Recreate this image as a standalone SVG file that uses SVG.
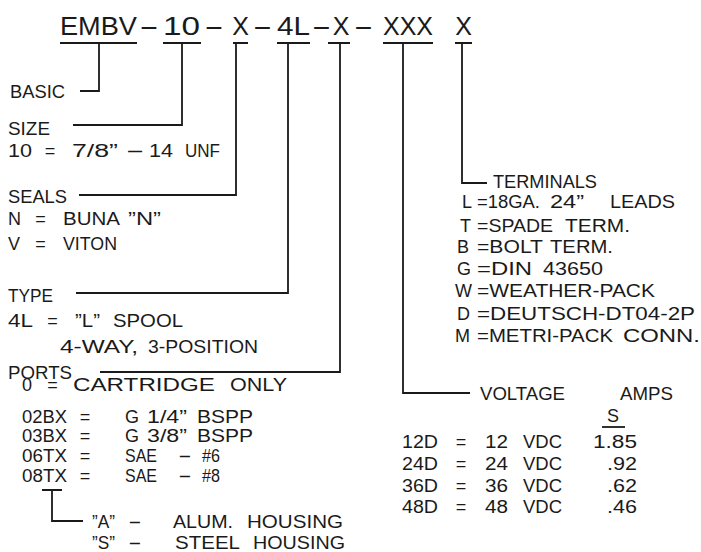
<svg xmlns="http://www.w3.org/2000/svg" width="701" height="552" viewBox="0 0 701 552">
<style>
text{font-family:"Liberation Sans",Arial,sans-serif;fill:#1a1a1a;font-size:18px}
.ttl{font-size:25px}
.m{text-anchor:middle}
.ln{stroke:#1a1a1a;stroke-width:1.8;fill:none}
</style>
<rect width="701" height="552" fill="#fff"/>
<g id="title">
<text class="ttl" x="60" y="35" textLength="77" lengthAdjust="spacingAndGlyphs">EMBV</text>
<text class="ttl m" transform="translate(149 35) scale(2.4 1)" x="0" y="0">-</text>
<text class="ttl" x="163" y="35" textLength="37" lengthAdjust="spacingAndGlyphs">10</text>
<text class="ttl m" transform="translate(214 35) scale(2.4 1)" x="0" y="0">-</text>
<text class="ttl m" x="240.5" y="35">X</text>
<text class="ttl m" transform="translate(262.5 35) scale(2.4 1)" x="0" y="0">-</text>
<text class="ttl" x="277" y="35" textLength="33" lengthAdjust="spacingAndGlyphs">4L</text>
<text class="ttl m" transform="translate(321.5 35) scale(2.4 1)" x="0" y="0">-</text>
<text class="ttl m" x="341" y="35">X</text>
<text class="ttl m" transform="translate(363.5 35) scale(2.4 1)" x="0" y="0">-</text>
<text class="ttl" x="383" y="35" textLength="50" lengthAdjust="spacingAndGlyphs">XXX</text>
<text class="ttl m" x="463.5" y="35">X</text>
</g>
<g id="connectors" class="ln">
<path d="M60 43H137M163 43H201M233 43H248M277 43H310M328 43H350M383 43H433M455 43H472"/>
<path d="M99 43V91H80"/>
<path d="M182 43V125H73"/>
<path d="M236 43V195H79"/>
<path d="M288 43V293H76"/>
<path d="M340 43V372H100"/>
<path d="M403 43V393H470"/>
<path d="M462 43V183H487"/>
<path d="M42 490H62M52 490V521H83"/>
<path d="M602 427H625"/>
</g>
<g id="basic">
<text x="10" y="98" textLength="55" lengthAdjust="spacingAndGlyphs">BASIC</text>
</g>
<g id="size">
<text x="8" y="135" textLength="42" lengthAdjust="spacingAndGlyphs">SIZE</text>
<text x="8" y="157" textLength="24" lengthAdjust="spacingAndGlyphs">10</text>
<text class="m" x="50" y="157">=</text>
<text x="72" y="157" textLength="46" lengthAdjust="spacingAndGlyphs">7/8”</text>
<text class="m" transform="translate(135 157) scale(3.2 1)" x="0" y="0">-</text>
<text x="149" y="157" textLength="24" lengthAdjust="spacingAndGlyphs">14</text>
<text x="185" y="157" textLength="35" lengthAdjust="spacingAndGlyphs">UNF</text>
</g>
<g id="seals">
<text x="8" y="203" textLength="59" lengthAdjust="spacingAndGlyphs">SEALS</text>
<text x="8" y="225">N</text>
<text class="m" x="40.5" y="225">=</text>
<text x="63" y="225" textLength="57" lengthAdjust="spacingAndGlyphs">BUNA</text>
<text x="128" y="225" textLength="33" lengthAdjust="spacingAndGlyphs">”N”</text>
<text x="8" y="250">V</text>
<text class="m" x="40.5" y="250">=</text>
<text x="63" y="250" textLength="54" lengthAdjust="spacingAndGlyphs">VITON</text>
</g>
<g id="type">
<text x="8" y="302" textLength="45" lengthAdjust="spacingAndGlyphs">TYPE</text>
<text x="8" y="327" textLength="25" lengthAdjust="spacingAndGlyphs">4L</text>
<text class="m" x="52.5" y="327">=</text>
<text x="75" y="327" textLength="25" lengthAdjust="spacingAndGlyphs">”L”</text>
<text x="113" y="327" textLength="70" lengthAdjust="spacingAndGlyphs">SPOOL</text>
<text x="60" y="353" textLength="78" lengthAdjust="spacingAndGlyphs">4-WAY,</text>
<text x="148" y="353" textLength="110" lengthAdjust="spacingAndGlyphs">3-POSITION</text>
</g>
<g id="ports">
<text x="8" y="379" textLength="64" lengthAdjust="spacingAndGlyphs">PORTS</text>
<text x="22" y="391">0</text>
<text class="m" x="52.5" y="391">=</text>
<text x="73" y="391" textLength="142" lengthAdjust="spacingAndGlyphs">CARTRIDGE</text>
<text x="230" y="391" textLength="57" lengthAdjust="spacingAndGlyphs">ONLY</text>
<text x="22" y="423" textLength="45" lengthAdjust="spacingAndGlyphs">02BX</text>
<text class="m" x="85" y="423">=</text>
<text x="125" y="423">G</text>
<text x="147" y="423" textLength="40" lengthAdjust="spacingAndGlyphs">1/4”</text>
<text x="197" y="423" textLength="56" lengthAdjust="spacingAndGlyphs">BSPP</text>
<text x="22" y="442" textLength="45" lengthAdjust="spacingAndGlyphs">03BX</text>
<text class="m" x="85" y="442">=</text>
<text x="125" y="442">G</text>
<text x="147" y="442" textLength="40" lengthAdjust="spacingAndGlyphs">3/8”</text>
<text x="197" y="442" textLength="56" lengthAdjust="spacingAndGlyphs">BSPP</text>
<text x="22" y="462" textLength="45" lengthAdjust="spacingAndGlyphs">06TX</text>
<text class="m" x="85" y="462">=</text>
<text x="125" y="462" textLength="32" lengthAdjust="spacingAndGlyphs">SAE</text>
<text class="m" transform="translate(185 462) scale(2.3 1)" x="0" y="0">-</text>
<text x="202" y="462" textLength="18" lengthAdjust="spacingAndGlyphs">#6</text>
<text x="22" y="482" textLength="45" lengthAdjust="spacingAndGlyphs">08TX</text>
<text class="m" x="85" y="482">=</text>
<text x="125" y="482" textLength="32" lengthAdjust="spacingAndGlyphs">SAE</text>
<text class="m" transform="translate(185 482) scale(2.3 1)" x="0" y="0">-</text>
<text x="202" y="482" textLength="18" lengthAdjust="spacingAndGlyphs">#8</text>
</g>
<g id="housing">
<text x="92" y="528" textLength="23" lengthAdjust="spacingAndGlyphs">”A”</text>
<text class="m" transform="translate(135 528) scale(2.3 1)" x="0" y="0">-</text>
<text x="173" y="528" textLength="60" lengthAdjust="spacingAndGlyphs">ALUM.</text>
<text x="247" y="528" textLength="96" lengthAdjust="spacingAndGlyphs">HOUSING</text>
<text x="92" y="549" textLength="23" lengthAdjust="spacingAndGlyphs">”S”</text>
<text class="m" transform="translate(135 549) scale(2.3 1)" x="0" y="0">-</text>
<text x="175" y="549" textLength="65" lengthAdjust="spacingAndGlyphs">STEEL</text>
<text x="253" y="549" textLength="92" lengthAdjust="spacingAndGlyphs">HOUSING</text>
</g>
<g id="terminals">
<text x="493" y="188" textLength="104" lengthAdjust="spacingAndGlyphs">TERMINALS</text>
<text x="462" y="208">L</text>
<text x="477" y="208" textLength="63" lengthAdjust="spacingAndGlyphs">=18GA.</text>
<text x="550" y="208" textLength="34" lengthAdjust="spacingAndGlyphs">24”</text>
<text x="610" y="208" textLength="65" lengthAdjust="spacingAndGlyphs">LEADS</text>
<text x="460" y="232">T</text>
<text x="477" y="232" textLength="76" lengthAdjust="spacingAndGlyphs">=SPADE</text>
<text x="565" y="232" textLength="65" lengthAdjust="spacingAndGlyphs">TERM.</text>
<text x="457" y="253">B</text>
<text x="477" y="253" textLength="66" lengthAdjust="spacingAndGlyphs">=BOLT</text>
<text x="550" y="253" textLength="63" lengthAdjust="spacingAndGlyphs">TERM.</text>
<text x="457" y="275">G</text>
<text x="477" y="275" textLength="55" lengthAdjust="spacingAndGlyphs">=DIN</text>
<text x="543" y="275" textLength="60" lengthAdjust="spacingAndGlyphs">43650</text>
<text x="455" y="297">W</text>
<text x="477" y="297" textLength="178" lengthAdjust="spacingAndGlyphs">=WEATHER-PACK</text>
<text x="457" y="320">D</text>
<text x="477" y="320" textLength="218" lengthAdjust="spacingAndGlyphs">=DEUTSCH-DT04-2P</text>
<text x="455" y="342">M</text>
<text x="477" y="342" textLength="136" lengthAdjust="spacingAndGlyphs">=METRI-PACK</text>
<text x="623" y="342" textLength="77" lengthAdjust="spacingAndGlyphs">CONN.</text>
</g>
<g id="voltage">
<text x="480" y="400" textLength="85" lengthAdjust="spacingAndGlyphs">VOLTAGE</text>
<text x="620" y="400" textLength="53" lengthAdjust="spacingAndGlyphs">AMPS</text>
<text x="607" y="422">S</text>
<text x="402" y="448" textLength="36" lengthAdjust="spacingAndGlyphs">12D</text>
<text class="m" x="461" y="448">=</text>
<text x="485" y="448" textLength="23" lengthAdjust="spacingAndGlyphs">12</text>
<text x="523" y="448" textLength="39" lengthAdjust="spacingAndGlyphs">VDC</text>
<text x="593" y="448" textLength="44" lengthAdjust="spacingAndGlyphs">1.85</text>
<text x="402" y="470" textLength="36" lengthAdjust="spacingAndGlyphs">24D</text>
<text class="m" x="461" y="470">=</text>
<text x="485" y="470" textLength="23" lengthAdjust="spacingAndGlyphs">24</text>
<text x="523" y="470" textLength="39" lengthAdjust="spacingAndGlyphs">VDC</text>
<text x="607" y="470" textLength="30" lengthAdjust="spacingAndGlyphs">.92</text>
<text x="402" y="492" textLength="36" lengthAdjust="spacingAndGlyphs">36D</text>
<text class="m" x="461" y="492">=</text>
<text x="485" y="492" textLength="23" lengthAdjust="spacingAndGlyphs">36</text>
<text x="523" y="492" textLength="39" lengthAdjust="spacingAndGlyphs">VDC</text>
<text x="607" y="492" textLength="30" lengthAdjust="spacingAndGlyphs">.62</text>
<text x="402" y="513" textLength="36" lengthAdjust="spacingAndGlyphs">48D</text>
<text class="m" x="461" y="513">=</text>
<text x="485" y="513" textLength="23" lengthAdjust="spacingAndGlyphs">48</text>
<text x="523" y="513" textLength="39" lengthAdjust="spacingAndGlyphs">VDC</text>
<text x="607" y="513" textLength="30" lengthAdjust="spacingAndGlyphs">.46</text>
</g>
</svg>
